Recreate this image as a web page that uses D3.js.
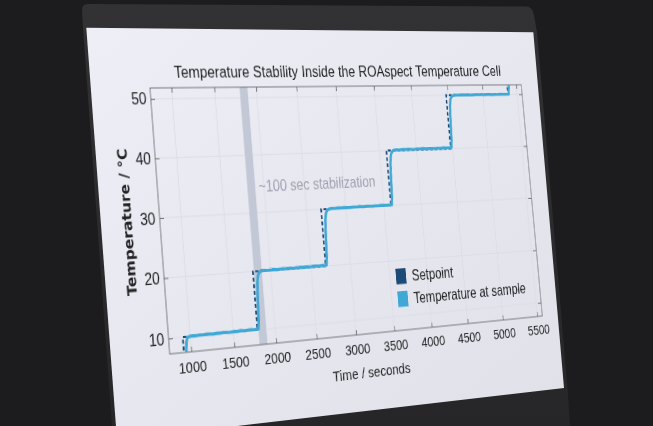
<!DOCTYPE html>
<html><head><meta charset="utf-8">
<script src="https://cdn.jsdelivr.net/npm/d3@7"></script>
<style>
html,body{margin:0;padding:0;background:#1d1d20;width:653px;height:426px;overflow:hidden;}
#bg{position:absolute;left:0;top:0;}
#flat{position:absolute;left:0;top:0;width:800px;height:500px;transform-origin:0 0;}
#chart{overflow:visible;}
</style></head><body>
<svg id="bg" width="653" height="426"></svg>
<div id="flat"><svg id="chart" width="800" height="500"></svg></div>
<script>
// ---------------- data ----------------
const titleText = "Temperature Stability Inside the ROAspect Temperature Cell";
const xLabel = "Time / seconds";
const yLabel = "Temperature / °C";
const xDomain = [755, 5575];
const yDomain = [7.45, 51.85];
const xTicks = [1000, 1500, 2000, 2500, 3000, 3500, 4000, 4500, 5000, 5500];
const yTicks = [10, 20, 30, 40, 50];
const legendLabels = ["Setpoint", "Temperature at sample"];
const bandRange = [1800, 1895];
const annotationText = "~100 sec stabilization";
const annotationAt = [1935, 33.6];

// setpoint (step after)
const setTimes  = [755, 916, 1788, 2685, 3594, 4475, 5365, 5575];
const setValues = [5, 10, 20, 30, 40, 50, 60, 60];

// measured temperature at sample [time, °C]
const temperature = [
  [755, 5.2], [936, 5.5], [942, 7.0], [948, 8.3], [954, 9.1], [961, 9.6], [970, 9.85], [983, 9.97], [1000, 10.03],
  [1030, 10.06], [1070, 10.03], [1110, 10.1], [1150, 10.05], [1190, 10.12], [1230, 10.07], [1270, 10.03],
  [1310, 10.11], [1350, 10.08], [1390, 10.14], [1430, 10.07], [1470, 10.05], [1510, 10.12], [1550, 10.09],
  [1590, 10.15], [1630, 10.08], [1670, 10.12], [1710, 10.17], [1750, 10.1], [1780, 10.14], [1800, 10.15],
  [1810, 11.4], [1816, 13.7], [1822, 15.9], [1829, 17.6], [1837, 18.7], [1847, 19.35], [1860, 19.7], [1876, 19.9], [1895, 20.0],
  [1925, 20.03], [1965, 20.0], [2005, 20.07], [2045, 20.02], [2085, 19.98], [2125, 20.06], [2165, 20.1],
  [2205, 20.03], [2245, 20.08], [2285, 20.04], [2325, 20.12], [2365, 20.06], [2405, 20.08], [2445, 20.12],
  [2485, 20.05], [2525, 20.1], [2565, 20.13], [2605, 20.08], [2645, 20.15], [2675, 20.11], [2697, 20.15],
  [2707, 21.5], [2713, 23.7], [2719, 25.9], [2726, 27.6], [2734, 28.7], [2744, 29.35], [2757, 29.7], [2773, 29.9], [2792, 30.0],
  [2822, 30.06], [2862, 30.03], [2902, 30.09], [2942, 30.05], [2982, 30.11], [3022, 30.07], [3062, 30.04],
  [3102, 30.1], [3142, 30.08], [3182, 30.13], [3222, 30.06], [3262, 30.09], [3302, 30.12], [3342, 30.07],
  [3382, 30.11], [3422, 30.08], [3462, 30.14], [3502, 30.09], [3542, 30.12], [3575, 30.1], [3606, 30.15],
  [3616, 31.5], [3622, 33.7], [3628, 35.9], [3635, 37.6], [3643, 38.7], [3653, 39.35], [3666, 39.7], [3682, 39.93], [3701, 40.05],
  [3731, 40.1], [3771, 40.07], [3811, 40.13], [3851, 40.09], [3891, 40.15], [3931, 40.1], [3971, 40.07],
  [4011, 40.13], [4051, 40.11], [4091, 40.16], [4131, 40.09], [4171, 40.12], [4211, 40.15], [4251, 40.1],
  [4291, 40.14], [4331, 40.11], [4371, 40.17], [4411, 40.12], [4451, 40.15], [4487, 40.18],
  [4497, 41.5], [4503, 43.7], [4509, 45.9], [4516, 47.5], [4524, 48.6], [4534, 49.3], [4547, 49.65], [4563, 49.85], [4582, 49.95],
  [4612, 50.0], [4652, 49.97], [4692, 50.03], [4732, 49.99], [4772, 50.05], [4812, 50.0], [4852, 49.97],
  [4892, 50.03], [4932, 50.01], [4972, 50.06], [5012, 49.99], [5052, 50.02], [5092, 50.05], [5132, 50.0],
  [5172, 50.04], [5212, 50.01], [5252, 50.07], [5292, 50.02], [5332, 50.05], [5377, 50.05],
  [5387, 51.5], [5393, 53.7], [5399, 56.0], [5410, 58.5], [5440, 59.8], [5575, 60.0]
];

// ---------------- colours ----------------
const cSet = "#1c4b78", cTemp = "#3fa8d4";

// ---------------- scene (photo of screen) ----------------
const bg = d3.select("#bg");
const defs = bg.append("defs");
const gScreen = defs.append("linearGradient").attr("id","scr").attr("x1","0").attr("y1","0").attr("x2","1").attr("y2","1");
gScreen.append("stop").attr("offset","0").attr("stop-color","#eeeef6");
gScreen.append("stop").attr("offset","1").attr("stop-color","#e0e0e9");
const gBez = defs.append("linearGradient").attr("id","bez").attr("x1","0").attr("y1","0").attr("x2","0").attr("y2","1");
gBez.append("stop").attr("offset","0").attr("stop-color","#323235");
gBez.append("stop").attr("offset","1").attr("stop-color","#262629");
bg.append("rect").attr("width",653).attr("height",426).attr("fill","#1c1c1f");
bg.append("path").attr("d","M82,10 Q82,4 88,4 L526,6.5 Q532,7 533.5,13 L537,32 L567.5,388 L570,426 L112,426 L83,28 Z")
  .attr("fill","url(#bez)");
bg.append("path").attr("d","M86.3,27.7 L533.3,32.3 L564,388 L117,440 Z").attr("fill","url(#scr)");

// ---------------- flat chart ----------------
const P = {x:110, y:70, w:500, h:260};
const svg = d3.select("#chart");
const x = d3.scaleLinear().domain(xDomain).range([P.x, P.x + P.w]);
const y = d3.scaleLinear().domain(yDomain).range([P.y + P.h, P.y]);
const font = "'Liberation Sans', Arial, Helvetica, sans-serif";
const txt = "#222224";

svg.append("defs").append("clipPath").attr("id","clip")
  .append("rect").attr("x",P.x).attr("y",P.y).attr("width",P.w).attr("height",P.h);

// grid
const grid = svg.append("g").attr("stroke","#d9dae2").attr("stroke-width",0.8);
grid.selectAll(".gx").data(xTicks).join("line")
  .attr("x1",d=>x(d)).attr("x2",d=>x(d)).attr("y1",P.y).attr("y2",P.y+P.h);
grid.selectAll(".gy").data(yTicks).join("line")
  .attr("x1",P.x).attr("x2",P.x+P.w).attr("y1",d=>y(d)).attr("y2",d=>y(d));

// stabilization band
svg.append("rect").attr("x",x(bandRange[0])).attr("y",P.y)
  .attr("width",x(bandRange[1]) - x(bandRange[0])).attr("height",P.h)
  .attr("fill","#c3c8d6");

// axes
function styleAxis(g, fs){
  g.select(".domain").remove();
  g.selectAll(".tick line").attr("stroke","#555").attr("stroke-width",0.8);
  g.selectAll(".tick text").attr("fill",txt).style("font-family",font).style("font-size",fs+"px");
}
const ax = svg.append("g").attr("transform",`translate(0,${P.y+P.h})`)
  .call(d3.axisBottom(x).tickValues(xTicks).tickFormat(d3.format("d")).tickSizeInner(-5).tickSizeOuter(0).tickPadding(9.7));
styleAxis(ax, 15);
const axT = svg.append("g").attr("transform",`translate(0,${P.y})`)
  .call(d3.axisTop(x).tickValues(xTicks).tickFormat("").tickSizeInner(-5).tickSizeOuter(0));
styleAxis(axT, 15);
const ay = svg.append("g").attr("transform",`translate(${P.x},0)`)
  .call(d3.axisLeft(y).tickValues(yTicks).tickFormat(d3.format("d")).tickSizeInner(-5).tickSizeOuter(0).tickPadding(5));
styleAxis(ay, 16);
const ayR = svg.append("g").attr("transform",`translate(${P.x+P.w},0)`)
  .call(d3.axisRight(y).tickValues(yTicks).tickFormat("").tickSizeInner(-5).tickSizeOuter(0));
styleAxis(ayR, 16);

svg.append("rect").attr("x",P.x).attr("y",P.y).attr("width",P.w).attr("height",P.h)
  .attr("fill","none").attr("stroke","#5a5a5e").attr("stroke-width",0.8);

// series
const plot = svg.append("g").attr("clip-path","url(#clip)");
const setLine = d3.line().x((d,i)=>x(setTimes[i])).y((d,i)=>y(setValues[i])).curve(d3.curveStepAfter);
plot.append("path").datum(setTimes).attr("d",setLine)
  .attr("fill","none").attr("stroke",cSet).attr("stroke-width",2.1).attr("stroke-dasharray","4,2.6");
const tLine = d3.line().x(d=>x(d[0])).y(d=>y(d[1]));
plot.append("path").datum(temperature).attr("d",tLine)
  .attr("fill","none").attr("stroke",cTemp).attr("stroke-width",3.2).attr("stroke-linejoin","round");

// annotation
svg.append("text").attr("x",x(annotationAt[0])).attr("y",y(annotationAt[1]))
  .attr("fill","#a0a2b0").style("font-family",font).style("font-size","16px").text(annotationText);

// legend
const lg = svg.append("g").attr("transform",`translate(${P.x+P.w-207},${P.y+P.h-65})`);
[cSet, cTemp].forEach((c,i)=>{
  lg.append("rect").attr("x",0).attr("y",i*24).attr("width",14).attr("height",16.5).attr("fill",c);
  lg.append("text").attr("x",22).attr("y",i*24+14).attr("fill",txt)
    .style("font-family",font).style("font-size","16px").text(legendLabels[i]);
});

// labels
svg.append("text").attr("x",P.x+P.w/2).attr("y",P.y-10).attr("text-anchor","middle")
  .attr("fill",txt).style("font-family",font).style("font-size","16.5px").text(titleText);
svg.append("text").attr("x",P.x+P.w/2).attr("y",P.y+P.h+45.5).attr("text-anchor","middle")
  .attr("fill",txt).style("font-family",font).style("font-size","15.5px").text(xLabel);
svg.append("text").attr("transform",`translate(${P.x-38},${P.y+P.h/2}) rotate(-90)`)
  .attr("text-anchor","middle").attr("dy","0.36em").attr("fill",txt)
  .style("font-family","'DejaVu Sans', sans-serif").style("font-weight","bold").style("font-size","15px").text(yLabel);

// ---------------- perspective (photo angle) ----------------
function homography(src, dst){
  const A = [], b = [];
  for (let i=0;i<4;i++){
    const [sx,sy] = src[i], [dx,dy] = dst[i];
    A.push([sx,sy,1,0,0,0,-dx*sx,-dx*sy]); b.push(dx);
    A.push([0,0,0,sx,sy,1,-dy*sx,-dy*sy]); b.push(dy);
  }
  const n = 8;
  for (let c=0;c<n;c++){
    let p=c; for(let r=c+1;r<n;r++) if(Math.abs(A[r][c])>Math.abs(A[p][c])) p=r;
    [A[c],A[p]]=[A[p],A[c]]; [b[c],b[p]]=[b[p],b[c]];
    for(let r=0;r<n;r++){ if(r===c) continue; const f=A[r][c]/A[c][c];
      for(let k=c;k<n;k++) A[r][k]-=f*A[c][k]; b[r]-=f*b[c]; }
  }
  return b.map((v,i)=>v/A[i][i]);
}
const srcQ = [[P.x,P.y],[P.x+P.w,P.y],[P.x+P.w,P.y+P.h],[P.x,P.y+P.h]];
const dstQ = [[150,88],[521.2,84.7],[542.3,316],[169.7,354]];
const h = homography(srcQ, dstQ);
const m = [h[0],h[3],0,h[6], h[1],h[4],0,h[7], 0,0,1,0, h[2],h[5],0,1];
document.getElementById("flat").style.transform = "matrix3d(" + m.join(",") + ")";
</script>
</body></html>
